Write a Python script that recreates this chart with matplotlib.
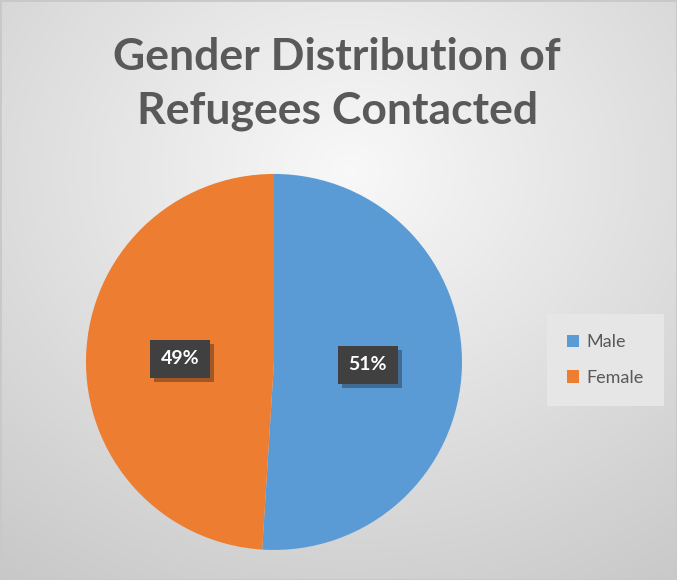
import matplotlib.pyplot as plt
import matplotlib.patheffects as pe
import numpy as np

labels = ["Male", "Female"]
shares = [51, 49]
colors = ["#5B9BD5", "#ED7D31"]
title = "Gender Distribution of\nRefugees Contacted"

plt.rcParams['font.family'] = ['Lato', 'DejaVu Sans']

fig = plt.figure(figsize=(6.77, 5.80), dpi=100)

# radial gradient background
bg = fig.add_axes([0, 0, 1, 1])
yy, xx = np.mgrid[0:580, 0:677]
d = np.sqrt(((xx - 350) / 677.0) ** 2 + ((yy - 170) / 580.0) ** 2)
g = 0.975 - 0.22 * d
bg.imshow(np.dstack([g, g, g]), extent=[0, 1, 0, 1], aspect='auto', origin='upper')
bg.plot([0, 1, 1, 0, 0], [0, 0, 1, 1, 0], color='#c8c8c8', lw=2, transform=bg.transAxes)
bg.set_xlim(0, 1)
bg.set_ylim(0, 1)
bg.axis('off')

fig.text(0.498, 0.855, title, ha='center', va='center', fontsize=32,
         fontweight='bold', color='#595959', linespacing=1.4)

ax = fig.add_axes([0.1270, 0.0518, 0.5554, 0.6483])
wedges, texts, autotexts = ax.pie(shares, colors=colors, startangle=90, counterclock=False,
                                  autopct='%d%%', pctdistance=0.5,
                                  wedgeprops=dict(linewidth=0))
for t in autotexts:
    t.set_color('white')
    t.set_fontsize(14)
    t.set_fontweight('bold')
    t.set_bbox(dict(boxstyle='square,pad=0.55', facecolor='#404040', edgecolor='none'))
    t.get_bbox_patch().set_path_effects([pe.SimplePatchShadow(offset=(3, -3), alpha=0.35), pe.Normal()])
ax.set_xlim(-1, 1)
ax.set_ylim(-1, 1)
ax.set_aspect('equal')

leg = fig.legend(wedges, labels, loc='center', bbox_to_anchor=(0.894, 0.379),
                 frameon=True, fontsize=13, handlelength=0.7, handleheight=0.7,
                 labelspacing=1.1, handletextpad=0.4, borderpad=0.8)
leg.get_frame().set_facecolor('#e6e6e6')
leg.get_frame().set_edgecolor('none')
leg.get_frame().set_alpha(1)
leg.get_frame().set_boxstyle('square')
for t in leg.get_texts():
    t.set_color('#595959')

fig.savefig('out.png', dpi=100)
